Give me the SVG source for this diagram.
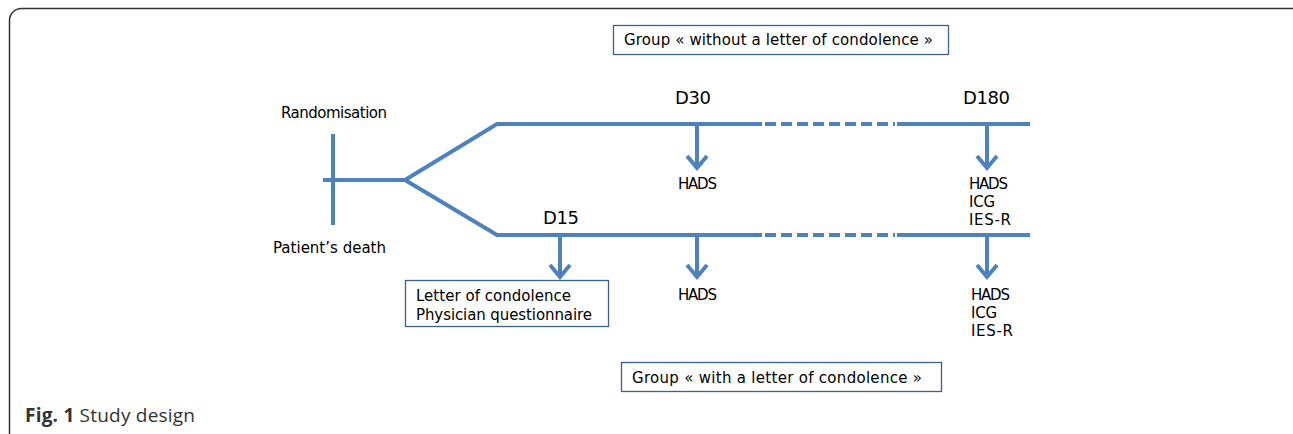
<svg xmlns="http://www.w3.org/2000/svg" width="1293" height="434" viewBox="0 0 1293 434">
<style>
.ln{stroke:#4f81bd;stroke-width:4;fill:none}
.ds{stroke:#4f81bd;stroke-width:4;fill:none;stroke-dasharray:11 5}
.ah{stroke:#4f81bd;stroke-width:4;fill:none;stroke-linejoin:miter}
.t{font-family:"DejaVu Sans",Verdana,sans-serif;font-size:15px;fill:#000}
.d{font-family:"DejaVu Sans",Verdana,sans-serif;font-size:18px;fill:#000}
.bx{fill:#fff;stroke:#3c5f8f;stroke-width:1.3}
.cap{font-family:"Open Sans",sans-serif;font-size:19px;fill:#333}
</style>
<rect x="9.5" y="8.5" width="1300" height="450" rx="12" fill="none" stroke="#333" stroke-width="1.5"/>
<g id="connectors">
<line class="ln" x1="333" y1="134" x2="333" y2="225"/>
<polyline class="ln" points="323,180 405,180 497,124 762,124"/>
<line class="ds" x1="765" y1="124" x2="895" y2="124"/>
<line class="ln" x1="897" y1="124" x2="1030" y2="124"/>
<polyline class="ln" points="405,180 497,235 762,235"/>
<line class="ds" x1="765" y1="235" x2="895" y2="235"/>
<line class="ln" x1="897" y1="235" x2="1030" y2="235"/>
<line class="ln" x1="697" y1="124" x2="697" y2="168"/>
<polyline class="ah" points="687,156 697,168 707,156"/>
<line class="ln" x1="987" y1="124" x2="987" y2="168"/>
<polyline class="ah" points="977,156 987,168 997,156"/>
<line class="ln" x1="560" y1="235" x2="560" y2="277"/>
<polyline class="ah" points="550,265 560,277 570,265"/>
<line class="ln" x1="697" y1="235" x2="697" y2="277"/>
<polyline class="ah" points="687,265 697,277 707,265"/>
<line class="ln" x1="987" y1="235" x2="987" y2="277"/>
<polyline class="ah" points="977,265 987,277 997,265"/>
</g>
<g id="randomisation"><text class="t" x="281" y="118" textLength="106">Randomisation</text></g>
<g id="death"><text class="t" x="273" y="253" textLength="113">Patient’s death</text></g>
<g id="d30"><text class="d" x="675" y="104" textLength="36">D30</text></g>
<g id="d180"><text class="d" x="963" y="104" textLength="47">D180</text></g>
<g id="d15"><text class="d" x="543" y="224" textLength="36">D15</text></g>
<g id="hads-top-d30"><text class="t" x="678" y="189" textLength="39">HADS</text></g>
<g id="top-d180"><text class="t" x="969" y="189" textLength="39">HADS</text><text class="t" x="969" y="207" textLength="26">ICG</text><text class="t" x="969" y="225" textLength="42">IES-R</text></g>
<g id="hads-bot-d30"><text class="t" x="678" y="300" textLength="39">HADS</text></g>
<g id="bot-d180"><text class="t" x="971" y="300" textLength="39">HADS</text><text class="t" x="971" y="318" textLength="26">ICG</text><text class="t" x="971" y="336" textLength="42">IES-R</text></g>
<g id="letter-box"><rect class="bx" x="405.5" y="280.5" width="203" height="46"/><text class="t" x="416" y="301" textLength="155">Letter of condolence</text><text class="t" x="416" y="320" textLength="176">Physician questionnaire</text></g>
<g id="group-without"><rect class="bx" x="613.5" y="25.5" width="335" height="29"/><text class="t" x="624" y="45" textLength="309">Group  « without a letter of condolence »</text></g>
<g id="group-with"><rect class="bx" x="621.5" y="362.5" width="320" height="29"/><text class="t" x="632" y="383" textLength="290">Group  « with a letter of condolence  »</text></g>
<text class="cap" x="25" y="422" textLength="170"><tspan font-weight="bold">Fig. 1</tspan> Study design</text>
</svg>
